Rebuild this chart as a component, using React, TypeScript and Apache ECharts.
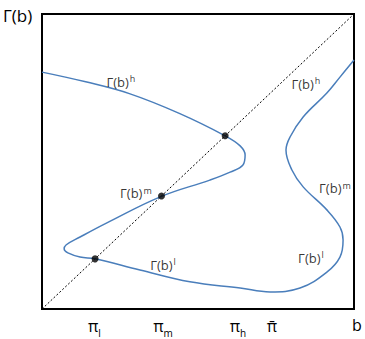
import React, { useEffect, useRef } from "react";
import * as echarts from "echarts";

// Curve Γ(b) traced in data units (x: b, y: Γ(b)), both 0..100
const curveB = [0, 14, 28, 44, 58.7, 63.5, 65.1, 64.4, 60.3, 53.8, 38.1, 20.8, 12.2, 7.7, 7.1, 8.3, 12.2, 17, 31.4, 47.4, 63.5, 73.1, 82.7, 91.3, 95.5, 96.5, 95.5, 91.3, 83.7, 80.1, 78.2, 79.5, 83.7, 91.3, 95.5, 100];
const curveG = [80.3, 77, 73, 66.3, 58.7, 55.3, 52.2, 48.8, 46.4, 43.7, 38.1, 29.2, 24.4, 21.7, 20.3, 19.0, 17.6, 17, 13.2, 9.2, 7.1, 5.8, 7.1, 12.5, 17.6, 23.4, 27.8, 33.6, 41.4, 47.1, 53.9, 58.3, 65.1, 73.2, 78.6, 84.4];

// 45-degree line
const diagB = [0, 100];
const diagG = [0, 100];

// equilibria (on the diagonal)
const eqB = [17, 38.3, 58.7];

// curve labels
const labelText = ["h", "m", "l", "h", "m", "l"];
const labelB = [25.3, 30.1, 38.8, 84.6, 93.9, 86.2];
const labelG = [77.0, 39.3, 15.0, 76.3, 41.0, 17.3];

// x tick labels
const tickValues = [16.8, 38.8, 62.8, 73.7];
const tickNames = ["{p|π}{s|l}", "{p|π}{s|m}", "{p|π}{s|h}", "{p|π\u0304}"];

const FONT = "Open Sans";

export default function App() {
  const ref = useRef<HTMLDivElement>(null);
  useEffect(() => {
    if (!ref.current) return;
    const chart = echarts.init(ref.current, undefined, { renderer: "svg" });
    chart.setOption({
      animation: false,
      grid: {
        left: 42,
        top: 14,
        right: 11,
        bottom: 30,
        show: true,
        borderColor: "#000",
        borderWidth: 2,
        backgroundColor: "transparent",
      },
      xAxis: {
        type: "value",
        min: 0,
        max: 100,
        axisLine: { show: false },
        axisTick: { show: false },
        splitLine: { show: false },
        axisLabel: {
          customValues: tickValues,
          margin: 8,
          formatter: (v: number) => {
            const i = tickValues.findIndex((t) => Math.abs(t - v) < 0.01);
            return i >= 0 ? tickNames[i] : "";
          },
          rich: {
            p: { fontSize: 16, fontFamily: FONT, color: "#000", lineHeight: 18 },
            s: { fontSize: 10, fontFamily: FONT, color: "#000", lineHeight: 18, verticalAlign: "bottom", padding: [0, 0, -3, 0] },
          },
        },
      },
      yAxis: {
        type: "value",
        min: 0,
        max: 100,
        axisLine: { show: false },
        axisTick: { show: false },
        splitLine: { show: false },
        axisLabel: { show: false },
      },
      graphic: [
        {
          type: "text",
          left: 3,
          top: 7,
          style: { text: "Γ(b)", fontSize: 17, fontFamily: FONT, fill: "#000" },
        },
        {
          type: "text",
          left: 352,
          top: 317,
          style: { text: "b", fontSize: 16, fontFamily: FONT, fill: "#000" },
        },
      ],
      series: [
        {
          type: "line",
          data: diagB.map((b, i) => [b, diagG[i]]),
          symbol: "none",
          lineStyle: { color: "#000", width: 1, type: [2, 2] },
          z: 2,
        },
        {
          type: "line",
          data: curveB.map((b, i) => [b, curveG[i]]),
          symbol: "none",
          smooth: 0.4,
          lineStyle: { color: "#4a7ebb", width: 1.5 },
          z: 3,
        },
        {
          type: "scatter",
          data: eqB.map((b) => [b, b]),
          symbol: "circle",
          symbolSize: 7,
          itemStyle: { color: "#000" },
          z: 5,
        },
        {
          type: "scatter",
          data: labelB.map((b, i) => [b, labelG[i]]),
          symbolSize: 0,
          silent: true,
          z: 6,
          label: {
            show: true,
            position: "inside",
            formatter: (p: any) => "{a|Γ(b)}{s|" + labelText[p.dataIndex] + "}",
            rich: {
              a: { fontSize: 13, fontFamily: FONT, color: "#000", lineHeight: 15 },
              s: { fontSize: 9, fontFamily: FONT, color: "#000", lineHeight: 15, verticalAlign: "top", padding: [0, 0, 0, 1] },
            },
          },
        },
      ],
    });
    return () => chart.dispose();
  }, []);
  return (
    <div
      ref={ref}
      style={{ position: "fixed", left: 0, top: 0, width: 365, height: 339, background: "#fff" }}
    />
  );
}
